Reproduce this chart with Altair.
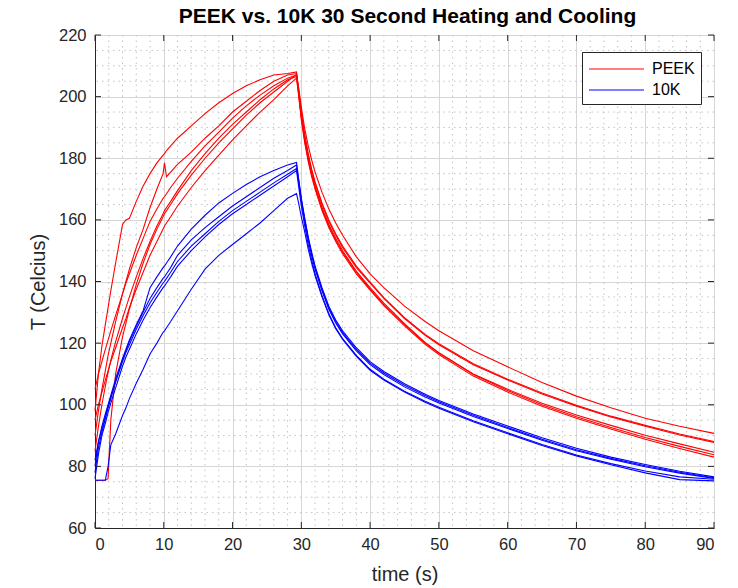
import altair as alt
import pandas as pd

# ---------------- data ----------------
t_heat = [0, 0.5, 1, 1.5, 1.9, 2.3, 3, 4, 4.5, 5, 6, 7, 8, 9, 9.9, 10.1, 10.4, 11, 12,
          14, 16, 18, 20, 22, 24, 26, 28, 29.3]
t_cool = [29.6, 30, 30.5, 31, 31.5, 32, 33, 34, 35, 36, 38, 40, 42, 45, 48, 50, 55, 60,
          65, 70, 75, 80, 85, 90]

# PEEK runs (Celcius)
peek1_heat = [98, 110, 119, 126, 131.5, 137, 146, 158.5, 160, 160.5, 166, 171, 175, 178.5, 181, 181.5, 182.5, 184, 186.5, 190.5, 194.5, 198, 201, 203.5, 205.5, 207, 207.5, 208]
peek1_cool = [202, 194.5, 187, 181, 176, 172, 165, 159.5, 155, 151, 144.5, 139.5, 134.5, 128, 122.5, 119.5, 113, 108, 103.5, 99.5, 96, 93, 90.2, 87.8]
peek2_heat = [90, 98, 105, 111, 116, 120, 127, 136, 140, 144, 151, 157, 164, 170, 175, 178.5, 174, 175.5, 178, 182, 186.5, 190.5, 195, 198.5, 202, 205, 207, 207.5]
peek2_cool = [203, 196.5, 189.5, 184, 179.5, 175.5, 169, 163.5, 159, 155, 148, 142.5, 138, 132, 127, 124, 117.5, 112.3, 107.2, 102.8, 99, 95.6, 93, 90.7]
peek3_heat = [105, 110, 114, 118, 121, 124, 129, 136, 139.5, 142.5, 148.5, 154, 159.5, 163.5, 167, 167.5, 168.5, 170.5, 173.5, 179, 184, 188.5, 193, 197, 200.5, 203.5, 206, 207]
peek3_cool = [202.5, 195, 187.5, 181.5, 176.5, 172.3, 165.5, 160, 155.5, 151.5, 145, 139.8, 134.8, 128.3, 122.8, 119.8, 113.3, 108.3, 103.8, 99.8, 96.3, 93.3, 90.5, 88.1]
peek4_heat = [85, 93, 100, 106, 110.5, 114.5, 120.5, 128, 131.5, 135, 141.5, 147.5, 153, 158, 162, 163, 164, 166, 169.5, 176, 181.5, 186.5, 191, 195, 199, 202.5, 205.5, 206.5]
peek4_cool = [201, 193, 185.5, 179.5, 174.5, 170.5, 163.5, 158, 153.5, 149.5, 143, 137.5, 132.5, 126, 120, 116.8, 110, 105, 100.5, 96.7, 93.3, 90.1, 87.3, 84.6]
peek5_heat = [75.5, 75.5, 75.5, 75.5, 76, 95, 110, 122, 126.5, 131, 139, 146, 152, 157, 161, 162, 163, 165, 168.5, 174.5, 180, 185, 189.5, 194, 198, 201.5, 205, 207.2]
peek5_cool = [201.5, 193.5, 186, 180, 175, 171, 164, 158.5, 154, 150, 143.3, 138, 133, 126.3, 120.2, 116.9, 109.8, 104.6, 100, 96.1, 92.6, 89.4, 86.5, 83.8]
peek6_heat = [95, 100, 104, 108, 111, 114, 118.5, 125, 128, 131.5, 137.5, 143, 148.5, 153, 157, 158, 159, 161, 164.5, 170.5, 176, 181, 186, 190.5, 195, 199, 203.5, 206]
peek6_cool = [200.5, 192.5, 185, 179, 174, 170, 163, 157.5, 153, 149, 142.5, 137.2, 132.2, 125.6, 119.6, 116.3, 109.3, 104.1, 99.5, 95.6, 92.1, 88.8, 85.8, 83]

# 10K runs (Celcius)
k10_1_heat = [80, 88, 93, 97, 100, 103, 108.5, 115, 118, 121, 126, 130.5, 138, 141.5, 144.5, 145, 146, 148, 151.5, 157, 161.5, 165.5, 168.6, 171.5, 174, 176, 177.8, 178.6]
k10_1_cool = [173.5, 167, 160.5, 154.5, 149.5, 145, 138, 132, 127.5, 124, 118.5, 114, 110.8, 106.8, 103.4, 101.4, 97, 93.1, 89.3, 85.9, 83, 80.6, 78.4, 76.6]
k10_2_heat = [78, 86, 91, 95.5, 99, 102, 107.5, 114.5, 117.5, 120.5, 125.5, 130, 134.5, 138, 141, 141.5, 142.5, 144.5, 148.5, 153.5, 157.5, 161, 164.5, 167.5, 170.5, 173.5, 176, 177.8]
k10_2_cool = [173, 166.5, 160, 154, 149, 144.5, 137.5, 131.5, 127, 123.5, 118, 113.5, 110.3, 106.3, 103, 101, 96.6, 92.6, 88.8, 85.4, 82.6, 80.2, 78.1, 76.3]
k10_3_heat = [82, 88, 92, 96, 99.5, 102.5, 107.5, 114, 117, 119.5, 124.5, 129, 133, 136.5, 139.5, 140, 141, 143, 146.5, 151.5, 155.5, 159.5, 163, 166, 169, 172, 174.8, 176.7]
k10_3_cool = [172.5, 166, 159.5, 153.5, 148.5, 144, 137, 131, 126.5, 123, 117.5, 113, 109.8, 105.8, 102.5, 100.6, 96.2, 92.3, 88.5, 85.1, 82.3, 79.9, 77.8, 76.1]
k10_4_heat = [76, 84, 90, 94, 97.5, 100.5, 105.5, 112.5, 115.5, 118, 123, 127.5, 131.5, 135, 138, 138.5, 139.5, 141.5, 145, 150, 154.5, 158.5, 162, 165, 168, 171, 174, 176]
k10_4_cool = [171, 164.5, 158, 152, 147, 142.5, 135.5, 129.5, 125, 121.5, 116, 111.5, 108.3, 104.4, 101.1, 99.2, 94.8, 90.9, 87.1, 83.7, 80.9, 78.5, 76.6, 75.8]
k10_5_heat = [75.5, 75.5, 75.5, 75.5, 80, 87, 90.5, 96.5, 99, 102, 107, 111.5, 116.5, 120, 123.5, 124, 125, 127, 130.5, 137.5, 144, 148.5, 152, 155.5, 159, 163, 167, 168.5]
k10_5_cool = [165.5, 161, 156, 150.5, 146, 141.8, 135, 129.2, 124.7, 121.2, 115.7, 111.2, 108, 104.1, 100.8, 98.9, 94.5, 90.6, 86.8, 83.4, 80.5, 77.9, 75.7, 75.3]

series_names = ["PEEK", "10K"]
series_colors = ["#ff0000", "#0000ff"]

x_ticks = [0, 10, 20, 30, 40, 50, 60, 70, 80, 90]
y_ticks = [60, 80, 100, 120, 140, 160, 180, 200, 220]
x_minor = [v for v in range(0, 91, 2) if v % 10 != 0]
y_minor = [v for v in range(60, 221, 5) if v % 20 != 0]

runs = [
    ("PEEK", "p1", peek1_heat, peek1_cool),
    ("PEEK", "p2", peek2_heat, peek2_cool),
    ("PEEK", "p3", peek3_heat, peek3_cool),
    ("PEEK", "p4", peek4_heat, peek4_cool),
    ("PEEK", "p5", peek5_heat, peek5_cool),
    ("PEEK", "p6", peek6_heat, peek6_cool),
    ("10K", "k1", k10_1_heat, k10_1_cool),
    ("10K", "k2", k10_2_heat, k10_2_cool),
    ("10K", "k3", k10_3_heat, k10_3_cool),
    ("10K", "k4", k10_4_heat, k10_4_cool),
    ("10K", "k5", k10_5_heat, k10_5_cool),
]

rows = []
for series, run, heat, cool in runs:
    for t, v in zip(t_heat + t_cool, heat + cool):
        rows.append({"series": series, "run": run, "t": t, "T": v})
df = pd.DataFrame(rows)

# ---------------- layout ----------------
W, H = 619, 493
FONT = "Liberation Sans"
INK = "#262626"

xs = alt.Scale(domain=[0, 90], nice=False, zero=False)
ys = alt.Scale(domain=[60, 220], nice=False, zero=False)

x_axis = alt.Axis(values=x_ticks, title="time (s)", grid=True, gridColor="#d6d6d6",
                  tickSize=0, labelPadding=8, labelFontSize=16.5, labelFont=FONT,
                  labelColor=INK, titleFontSize=20, titleFont=FONT, titleColor=INK,
                  titleFontWeight="normal", titlePadding=12, domainColor=INK)
y_axis = alt.Axis(values=y_ticks, title="T (Celcius)", grid=True, gridColor="#d6d6d6",
                  tickSize=0, labelPadding=9, labelFontSize=16.5, labelFont=FONT,
                  labelColor=INK, titleFontSize=20, titleFont=FONT, titleColor=INK,
                  titleFontWeight="normal", titlePadding=10, domainColor=INK)

minor_x = alt.Chart(pd.DataFrame({"t": x_minor})).mark_rule(
    color="#c4c4c4", strokeDash=[1.5, 4], strokeWidth=1
).encode(x=alt.X("t:Q", scale=xs, axis=x_axis))

minor_y = alt.Chart(pd.DataFrame({"T": y_minor})).mark_rule(
    color="#c4c4c4", strokeDash=[1.5, 4], strokeWidth=1
).encode(y=alt.Y("T:Q", scale=ys, axis=y_axis))

lines = alt.Chart(df).mark_line(strokeWidth=1.1).encode(
    x=alt.X("t:Q", scale=xs, axis=x_axis),
    y=alt.Y("T:Q", scale=ys, axis=y_axis),
    color=alt.Color("series:N",
                    scale=alt.Scale(domain=series_names, range=series_colors),
                    legend=alt.Legend(orient="none", legendX=487, legendY=17, title=None,
                                      symbolType="M-1,0H4.5", symbolSize=400,
                                      symbolStrokeWidth=1.2, labelFontSize=16,
                                      labelFont=FONT, labelColor="#000000",
                                      strokeColor=INK, fillColor="white",
                                      padding=6, rowPadding=2, labelOffset=42)),
    detail="run:N",
)

# inward tick marks on all four sides
xt = pd.DataFrame({"t": x_ticks})
yt = pd.DataFrame({"T": y_ticks})
tick_b = alt.Chart(xt).mark_rule(color=INK).encode(
    x=alt.X("t:Q", scale=xs), y=alt.value(H), y2=alt.value(H - 6))
tick_t = alt.Chart(xt).mark_rule(color=INK).encode(
    x=alt.X("t:Q", scale=xs), y=alt.value(0), y2=alt.value(6))
tick_l = alt.Chart(yt).mark_rule(color=INK).encode(
    y=alt.Y("T:Q", scale=ys), x=alt.value(0), x2=alt.value(6))
tick_r = alt.Chart(yt).mark_rule(color=INK).encode(
    y=alt.Y("T:Q", scale=ys), x=alt.value(W), x2=alt.value(W - 6))

chart = alt.layer(minor_x, minor_y, lines, tick_b, tick_t, tick_l, tick_r).properties(
    width=W, height=H,
    title=alt.Title("PEEK vs. 10K 30 Second Heating and Cooling", fontSize=21,
                    fontWeight="bold", font=FONT, color="#000000", anchor="middle",
                    offset=0, dx=3),
    autosize=alt.AutoSizeParams(type="none"),
    padding={"left": 95, "top": 35, "right": 24, "bottom": 60},
).configure_view(stroke=INK, strokeWidth=1).configure(background="white")

chart.save("out.html", embed_options={"renderer": "svg", "actions": False})
